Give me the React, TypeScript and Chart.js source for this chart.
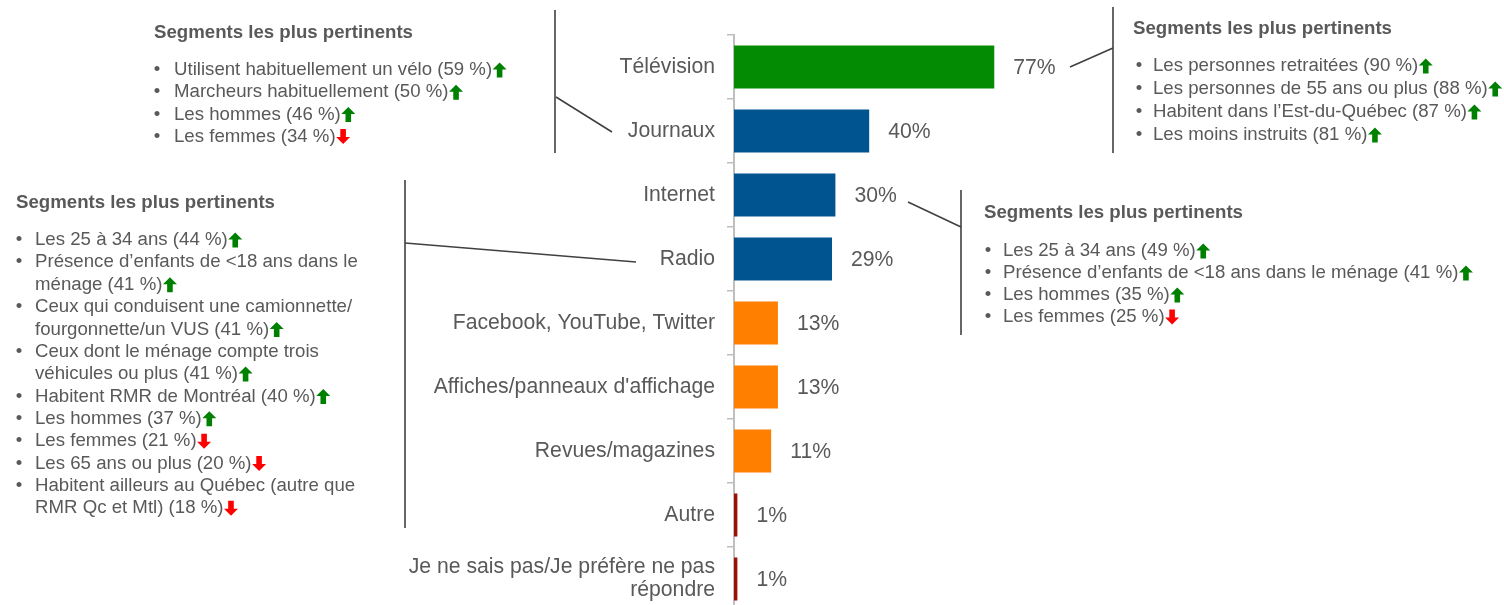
import React, { useEffect, useRef } from "react";
import { Chart, registerables } from "chart.js";

Chart.register(...registerables);

// ---------- DATA ----------
const categories: (string | string[])[] = [
  "Télévision",
  "Journaux",
  "Internet",
  "Radio",
  "Facebook, YouTube, Twitter",
  "Affiches/panneaux d'affichage",
  "Revues/magazines",
  "Autre",
  ["Je ne sais pas/Je préfère ne pas", "répondre"],
];
const values = [77, 40, 30, 29, 13, 13, 11, 1, 1];
const barColors = [
  "#038c03",
  "#00548f",
  "#00548f",
  "#00548f",
  "#ff7f00",
  "#ff7f00",
  "#ff7f00",
  "#9c1006",
  "#9c1006",
];

const segTitle = "Segments les plus pertinents";

// each item: wrapped lines, trend
const segJournauxLines = [
  ["Utilisent habituellement un vélo (59 %)"],
  ["Marcheurs habituellement (50 %)"],
  ["Les hommes (46 %)"],
  ["Les femmes (34 %)"],
];
const segJournauxTrend = ["up", "up", "up", "down"];

const segTeleLines = [
  ["Les personnes retraitées (90 %)"],
  ["Les personnes de 55 ans ou plus (88 %)"],
  ["Habitent dans l’Est-du-Québec (87 %)"],
  ["Les moins instruits (81 %)"],
];
const segTeleTrend = ["up", "up", "up", "up"];

const segRadioLines = [
  ["Les 25 à 34 ans (44 %)"],
  ["Présence d’enfants de <18 ans dans le", "ménage (41 %)"],
  ["Ceux qui conduisent une camionnette/", "fourgonnette/un VUS (41 %)"],
  ["Ceux dont le ménage compte trois", "véhicules ou plus (41 %)"],
  ["Habitent RMR de Montréal (40 %)"],
  ["Les hommes (37 %)"],
  ["Les femmes (21 %)"],
  ["Les 65 ans ou plus (20 %)"],
  ["Habitent ailleurs au Québec (autre que", "RMR Qc et Mtl) (18 %)"],
];
const segRadioTrend = ["up", "up", "up", "up", "up", "up", "down", "down", "down"];

const segInternetLines = [
  ["Les 25 à 34 ans (49 %)"],
  ["Présence d’enfants de <18 ans dans le ménage (41 %)"],
  ["Les hommes (35 %)"],
  ["Les femmes (25 %)"],
];
const segInternetTrend = ["up", "up", "up", "down"];

// ---------- LAYOUT / STYLE ----------
const FONT = "'Liberation Sans', Arial, sans-serif";
const TEXT = "#595959";
const LINE = "#404040";
const UP = "#008000";
const DOWN = "#ff0000";

type Block = {
  lines: string[][];
  trend: string[];
  titleX: number;
  titleY: number;
  itemsY: number;
  lh: number;
  bulletX: number;
  textX: number;
  segs: number[][];
};

const blocks: Block[] = [
  {
    lines: segJournauxLines,
    trend: segJournauxTrend,
    titleX: 154,
    titleY: 33,
    itemsY: 70,
    lh: 22.2,
    bulletX: 157,
    textX: 174,
    segs: [
      [555, 10, 555, 153],
      [556, 97, 612, 132],
    ],
  },
  {
    lines: segTeleLines,
    trend: segTeleTrend,
    titleX: 1133,
    titleY: 29,
    itemsY: 66,
    lh: 23,
    bulletX: 1139,
    textX: 1153,
    segs: [
      [1113, 7, 1113, 153],
      [1070, 67, 1113, 48],
    ],
  },
  {
    lines: segRadioLines,
    trend: segRadioTrend,
    titleX: 16,
    titleY: 203,
    itemsY: 240,
    lh: 22.35,
    bulletX: 19,
    textX: 35,
    segs: [
      [405, 180, 405, 528],
      [405, 243, 636, 262],
    ],
  },
  {
    lines: segInternetLines,
    trend: segInternetTrend,
    titleX: 984,
    titleY: 213,
    itemsY: 251,
    lh: 22,
    bulletX: 988,
    textX: 1003,
    segs: [
      [961, 190, 961, 335],
      [908, 202, 961, 227],
    ],
  },
];

function drawArrow(ctx: CanvasRenderingContext2D, x: number, y: number, up: boolean) {
  const w = 14;
  const h = 15;
  const head = 7;
  const shaft = 2.8;
  const cx = x + w / 2;
  const top = y - h / 2;
  const bot = y + h / 2;
  ctx.beginPath();
  if (up) {
    ctx.moveTo(cx, top);
    ctx.lineTo(cx + w / 2, top + head);
    ctx.lineTo(cx + shaft, top + head);
    ctx.lineTo(cx + shaft, bot);
    ctx.lineTo(cx - shaft, bot);
    ctx.lineTo(cx - shaft, top + head);
    ctx.lineTo(cx - w / 2, top + head);
  } else {
    ctx.moveTo(cx, bot);
    ctx.lineTo(cx + w / 2, bot - head);
    ctx.lineTo(cx + shaft, bot - head);
    ctx.lineTo(cx + shaft, top);
    ctx.lineTo(cx - shaft, top);
    ctx.lineTo(cx - shaft, bot - head);
    ctx.lineTo(cx - w / 2, bot - head);
  }
  ctx.closePath();
  ctx.fillStyle = up ? UP : DOWN;
  ctx.fill();
}

const annotationPlugin = {
  id: "annotations",
  afterDraw(chart: any) {
    const ctx: CanvasRenderingContext2D = chart.ctx;
    ctx.save();
    // value labels
    const meta = chart.getDatasetMeta(0);
    ctx.font = `21.2px ${FONT}`;
    ctx.fillStyle = TEXT;
    ctx.textAlign = "left";
    ctx.textBaseline = "middle";
    meta.data.forEach((bar: any, i: number) => {
      ctx.fillText(`${values[i]}%`, bar.x + 19, bar.y + 1);
    });

    blocks.forEach((b) => {
      ctx.strokeStyle = LINE;
      ctx.lineWidth = 1.6;
      b.segs.forEach((s) => {
        ctx.beginPath();
        ctx.moveTo(s[0], s[1]);
        ctx.lineTo(s[2], s[3]);
        ctx.stroke();
      });
      ctx.fillStyle = TEXT;
      ctx.textAlign = "left";
      ctx.textBaseline = "middle";
      ctx.font = `bold 18.65px ${FONT}`;
      ctx.fillText(segTitle, b.titleX, b.titleY);
      ctx.font = `18.65px ${FONT}`;
      let y = b.itemsY;
      b.lines.forEach((item, i) => {
        ctx.fillStyle = TEXT;
        ctx.textAlign = "center";
        ctx.fillText("•", b.bulletX, y);
        ctx.textAlign = "left";
        item.forEach((ln, j) => {
          ctx.fillStyle = TEXT;
          ctx.fillText(ln, b.textX, y);
          if (j === item.length - 1) {
            const wdt = ctx.measureText(ln).width;
            drawArrow(ctx, b.textX + wdt + 0.5, y, b.trend[i] === "up");
          }
          y += b.lh;
        });
      });
    });
    ctx.restore();
  },
};

export default function App() {
  const ref = useRef<HTMLCanvasElement | null>(null);

  useEffect(() => {
    if (!ref.current) return;
    const chart = new Chart(ref.current, {
      type: "bar",
      data: {
        labels: categories,
        datasets: [
          {
            data: values,
            backgroundColor: barColors,
            borderWidth: 0,
            categoryPercentage: 1,
            barPercentage: 0.672,
          },
        ],
      },
      options: {
        indexAxis: "y",
        responsive: false,
        animation: false,
        devicePixelRatio: 1,
        layout: { padding: { top: 35, bottom: 1, left: 0, right: 432 } },
        plugins: {
          legend: { display: false },
          tooltip: { enabled: false },
          title: { display: false },
        },
        scales: {
          x: { display: false, min: 0, max: 100 },
          y: {
            afterFit: (s: any) => {
              s.width = 734;
              s.paddingTop = 0;
              s.paddingBottom = 0;
            },
            ticks: {
              color: TEXT,
              font: { family: FONT, size: 21.2, lineHeight: 1.08 },
              padding: 12,
            },
            grid: {
              drawOnChartArea: false,
              drawTicks: true,
              tickLength: 7,
              color: "#bfbfbf",
              lineWidth: 1.5,
              offset: true,
            },
            border: { display: true, color: "#bfbfbf", width: 2 },
          },
        },
      },
      plugins: [annotationPlugin],
    });
    return () => chart.destroy();
  }, []);

  return (
    <div
      style={{
        position: "absolute",
        left: 0,
        top: 0,
        width: 1504,
        height: 605,
        overflow: "hidden",
        background: "#ffffff",
      }}
    >
      <canvas ref={ref} width={1504} height={612} style={{ width: 1504, height: 612, display: "block" }} />
    </div>
  );
}
